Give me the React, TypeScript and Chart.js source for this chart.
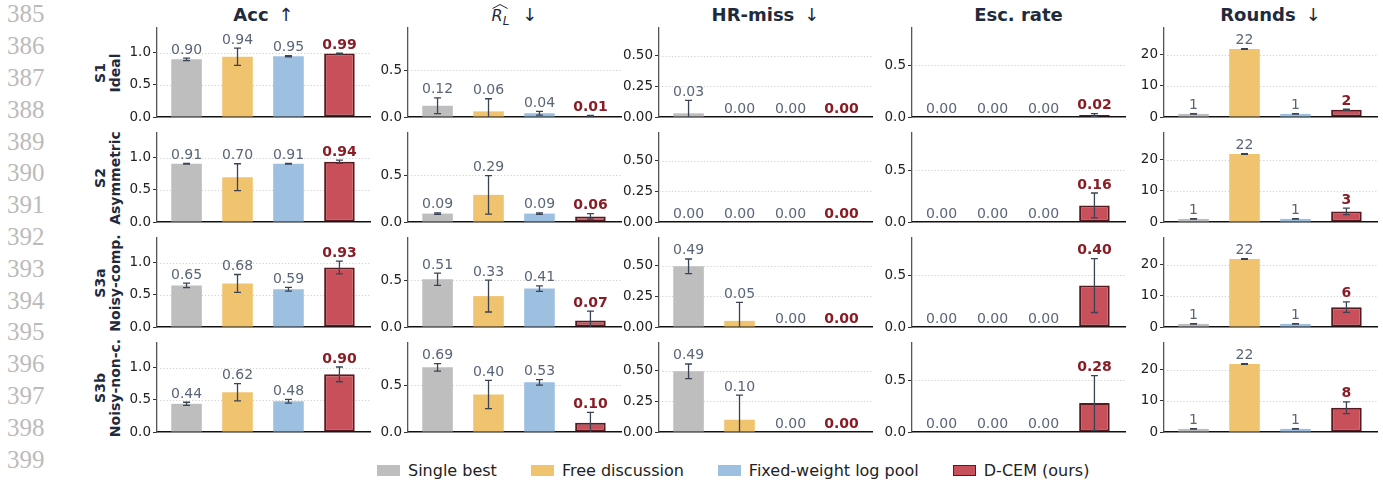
import React, { useEffect, useRef } from 'react';
import { Chart, registerables } from 'chart.js';

Chart.register(...registerables);

// ---------- data ----------
const methods = ['Single best', 'Free discussion', 'Fixed-weight log pool', 'D-CEM (ours)'];
const scenarioIds = ['S1', 'S2', 'S3a', 'S3b'];
const scenarioNames = ['Ideal', 'Asymmetric', 'Noisy-comp.', 'Noisy-non-c.'];
const metricNames = ['Acc', 'R_L', 'HR-miss', 'Esc. rate', 'Rounds'];
const metricArrows = ['↑', '↓', '↓', '', '↓'];
const lineNumbers = [385, 386, 387, 388, 389, 390, 391, 392, 393, 394, 395, 396, 397, 398, 399];

// rows: S1, S2, S3a, S3b ; columns: methods
const accMean = [[0.90, 0.94, 0.95, 0.99], [0.91, 0.70, 0.91, 0.94], [0.65, 0.68, 0.59, 0.93], [0.44, 0.62, 0.48, 0.90]];
const accErr = [[0.02, 0.135, 0.01, 0.006], [0.006, 0.21, 0.006, 0.025], [0.035, 0.14, 0.03, 0.1], [0.025, 0.135, 0.03, 0.115]];
const rlMean = [[0.12, 0.06, 0.04, 0.01], [0.09, 0.29, 0.09, 0.06], [0.51, 0.33, 0.41, 0.07], [0.69, 0.40, 0.53, 0.10]];
const rlErr = [[0.085, 0.135, 0.02, 0.006], [0.008, 0.205, 0.008, 0.03], [0.065, 0.17, 0.03, 0.1], [0.04, 0.15, 0.03, 0.11]];
const hrMean = [[0.03, 0, 0, 0], [0, 0, 0, 0], [0.494, 0.05, 0, 0], [0.494, 0.10, 0, 0]];
const hrErr = [[0.105, 0, 0, 0], [0, 0, 0, 0], [0.06, 0.15, 0, 0], [0.06, 0.2, 0, 0]];
const escMean = [[0, 0, 0, 0.02], [0, 0, 0, 0.16], [0, 0, 0, 0.40], [0, 0, 0, 0.28]];
const escErr = [[0, 0, 0, 0.013], [0, 0, 0, 0.12], [0, 0, 0, 0.26], [0, 0, 0, 0.265]];
const roundsMean = [[1.0, 21.9, 1.0, 2.35], [1.0, 21.9, 1.0, 3.4], [1.0, 21.9, 1.0, 6.4], [1.0, 21.9, 1.0, 7.8]];
const roundsErr = [[0.08, 0.12, 0.08, 0.2], [0.08, 0.12, 0.08, 1.05], [0.08, 0.12, 0.08, 1.7], [0.08, 0.12, 0.08, 1.9]];

const metricMeans = [accMean, rlMean, hrMean, escMean, roundsMean];
const metricErrs = [accErr, rlErr, hrErr, escErr, roundsErr];

const yMax = [1.39, 0.95, 0.725, 0.86, 28.7];
const yStep = [0.5, 0.5, 0.25, 0.5, 10];
const tickDecimals = [1, 1, 2, 1, 0];
const labelDecimals = [2, 2, 2, 2, 0];

// ---------- styles ----------
const barColors = ['#bebebe', '#f0c36e', '#9dbfe0', '#c8505a'];
const barBorderColors = ['rgba(0,0,0,0)', 'rgba(0,0,0,0)', 'rgba(0,0,0,0)', '#571a20'];
const barBorderWidths = [0, 0, 0, 2];
const labelColors = ['#5b6578', '#5b6578', '#5b6578', '#8a1c25'];
const labelBold = [false, false, false, true];

const axisX = [157, 408, 659, 912, 1164];
const panelTop = [28, 133, 238, 343];
const PANEL_W = 213;
const PANEL_H = 89;
const PAD_L = 50;
const PAD_R = 4;
const PAD_T = 12;
const PAD_B = 12;
const CW = PAD_L + PANEL_W + PAD_R;
const CH = PAD_T + PANEL_H + PAD_B;
const FONT = '"DejaVu Sans", sans-serif';
const NAVY = '#1f2a3c';

function Panel({ m, s }: { m: number; s: number }) {
  const ref = useRef<HTMLCanvasElement | null>(null);

  useEffect(() => {
    const canvas = ref.current;
    if (!canvas) return;
    const mean = metricMeans[m][s];
    const err = metricErrs[m][s];

    const dotGrid = {
      id: 'dotGrid',
      beforeDatasetsDraw(chart: any) {
        const { ctx, chartArea, scales } = chart;
        const y = scales.y;
        ctx.save();
        ctx.strokeStyle = '#cccccc';
        ctx.lineWidth = 0.9;
        ctx.setLineDash([1.2, 2]);
        y.ticks.forEach((t: any) => {
          if (t.value <= 0) return;
          const py = Math.round(y.getPixelForValue(t.value)) + 0.5;
          ctx.beginPath();
          ctx.moveTo(chartArea.left, py);
          ctx.lineTo(chartArea.right, py);
          ctx.stroke();
        });
        ctx.restore();
      },
    };

    const errLabels = {
      id: 'errLabels',
      afterDatasetsDraw(chart: any) {
        const { ctx, scales } = chart;
        const y = scales.y;
        const meta = chart.getDatasetMeta(0);
        ctx.save();
        meta.data.forEach((bar: any, i: number) => {
          const v = mean[i];
          const e = err[i];
          const x = bar.x;
          const top = v + e;
          const pTop = y.getPixelForValue(top);
          if (e > 0) {
            const lo = v - e;
            const pLo = y.getPixelForValue(Math.max(0, lo));
            ctx.strokeStyle = '#3a4354';
            ctx.lineWidth = 1.3;
            ctx.setLineDash([]);
            ctx.beginPath();
            ctx.moveTo(x, pTop);
            ctx.lineTo(x, pLo);
            ctx.moveTo(x - 3.5, pTop);
            ctx.lineTo(x + 3.5, pTop);
            if (lo >= 0) {
              ctx.moveTo(x - 3.5, pLo);
              ctx.lineTo(x + 3.5, pLo);
            }
            ctx.stroke();
          }
          ctx.font = (labelBold[i] ? 'bold ' : '') + '14px ' + FONT;
          ctx.fillStyle = labelColors[i];
          ctx.textAlign = 'center';
          ctx.textBaseline = 'alphabetic';
          ctx.fillText(v.toFixed(labelDecimals[m]), x, pTop - 4.5);
        });
        ctx.restore();
      },
    };

    const chart = new Chart(canvas, {
      type: 'bar',
      data: {
        datasets: [
          {
            label: metricNames[m],
            data: mean.map((v, i) => ({ x: i, y: v })),
            backgroundColor: barColors,
            borderColor: barBorderColors,
            borderWidth: barBorderWidths,
            borderSkipped: false,
            categoryPercentage: 0.6,
            barPercentage: 1,
          } as any,
        ],
      },
      options: {
        animation: false,
        responsive: false,
        maintainAspectRatio: false,
        events: [],
        layout: { padding: { left: 0, right: PAD_R, top: PAD_T, bottom: PAD_B } },
        plugins: { legend: { display: false }, tooltip: { enabled: false }, title: { display: false } },
        scales: {
          x: {
            type: 'linear',
            min: -0.58,
            max: 3.6,
            offset: false,
            grid: { display: false, drawTicks: false },
            ticks: { display: false, stepSize: 1, includeBounds: false },
            border: { display: true, color: '#111111', width: 1.6 },
            afterFit: (sc: any) => {
              sc.height = 0;
            },
          },
          y: {
            min: 0,
            max: yMax[m],
            ticks: {
              stepSize: yStep[m],
              includeBounds: false,
              padding: 2,
              color: '#222222',
              font: { family: FONT, size: 13.5 },
              callback: (v: any) => Number(v).toFixed(tickDecimals[m]),
            },
            grid: { drawOnChartArea: false, drawTicks: true, tickLength: 4, tickColor: '#333333', tickWidth: 1 },
            border: { display: true, color: '#555555', width: 1.3 },
            afterFit: (sc: any) => {
              sc.width = PAD_L;
            },
          },
        },
      } as any,
      plugins: [dotGrid, errLabels],
    });

    // make the plot area exactly PANEL_W x PANEL_H and place it where the panel sits
    const ca = chart.chartArea;
    const dh = Math.round(PANEL_H - (ca.bottom - ca.top));
    const dw = Math.round(PANEL_W - (ca.right - ca.left));
    if (dh !== 0 || dw !== 0) chart.resize(CW + dw, CH + dh);
    const ca2 = chart.chartArea;
    canvas.style.left = axisX[m] - ca2.left + 'px';
    canvas.style.top = panelTop[s] - ca2.top + 'px';

    return () => chart.destroy();
  }, [m, s]);

  return (
    <canvas
      ref={ref}
      width={CW}
      height={CH}
      style={{ position: 'absolute', left: axisX[m] - PAD_L, top: panelTop[s] - PAD_T, width: CW, height: CH }}
    />
  );
}

function Title({ m }: { m: number }) {
  const cx = axisX[m] + PANEL_W / 2;
  const base: React.CSSProperties = {
    position: 'absolute',
    left: cx,
    top: 6,
    transform: 'translateX(-50%)',
    whiteSpace: 'nowrap',
    fontSize: 18,
    lineHeight: '18px',
    color: NAVY,
    fontFamily: FONT,
  };
  if (m === 1) {
    return (
      <div style={base}>
        <span style={{ position: 'relative', display: 'inline-block', fontStyle: 'italic', fontSize: 16 }}>
          R
          <svg width="16" height="5" style={{ position: 'absolute', left: 0, top: -3 }}>
            <polyline points="0.5,4.5 8,0.5 15.5,4.5" fill="none" stroke={NAVY} strokeWidth="1" />
          </svg>
        </span>
        <span style={{ fontStyle: 'italic', fontSize: 12, position: 'relative', top: 4 }}>L</span>
        <span style={{ marginLeft: 13 }}>{metricArrows[m]}</span>
      </div>
    );
  }
  return (
    <div style={base}>
      <span style={{ fontWeight: 'bold' }}>{metricNames[m]}</span>
      {metricArrows[m] ? <span style={{ fontWeight: 'normal', marginLeft: 10 }}>{metricArrows[m]}</span> : null}
    </div>
  );
}

export default function App() {
  return (
    <div
      style={{
        position: 'fixed',
        left: 0,
        top: 0,
        width: 1383,
        height: 482,
        background: '#ffffff',
        overflow: 'hidden',
        fontFamily: FONT,
      }}
    >
      {lineNumbers.map((n, i) => (
        <div
          key={n}
          style={{
            position: 'absolute',
            left: 7,
            top: 13.7 + i * 31.8 - 12.4,
            fontFamily: '"Liberation Serif", serif',
            fontSize: 25,
            lineHeight: '25px',
            color: '#bbbbbb',
          }}
        >
          {n}
        </div>
      ))}

      {metricNames.map((_, m) => (
        <Title key={'t' + m} m={m} />
      ))}

      {scenarioIds.map((id, s) => (
        <div
          key={'r' + s}
          style={{
            position: 'absolute',
            left: 108,
            top: panelTop[s] + PANEL_H / 2,
            transform: 'translate(-50%, -50%) rotate(-90deg)',
            fontWeight: 'bold',
            fontSize: 14,
            lineHeight: '15px',
            textAlign: 'center',
            whiteSpace: 'nowrap',
            color: NAVY,
          }}
        >
          {id}
          <br />
          {scenarioNames[s]}
        </div>
      ))}

      {scenarioIds.map((_, s) =>
        metricNames.map((__, m) => <Panel key={'p' + s + '-' + m} m={m} s={s} />)
      )}

      <div
        style={{
          position: 'absolute',
          left: 377,
          top: 462.5,
          display: 'flex',
          alignItems: 'center',
          fontSize: 16,
          lineHeight: '16px',
          color: '#222222',
          whiteSpace: 'nowrap',
        }}
      >
        {methods.map((name, i) => (
          <div key={name} style={{ display: 'flex', alignItems: 'center', marginRight: i < methods.length - 1 ? 34 : 0 }}>
            <div
              style={{
                width: 23,
                height: 11,
                boxSizing: 'border-box',
                background: barColors[i],
                border: i === 3 ? '1.5px solid ' + barBorderColors[3] : 'none',
                marginRight: 8,
              }}
            />
            <span>{name}</span>
          </div>
        ))}
      </div>
    </div>
  );
}
